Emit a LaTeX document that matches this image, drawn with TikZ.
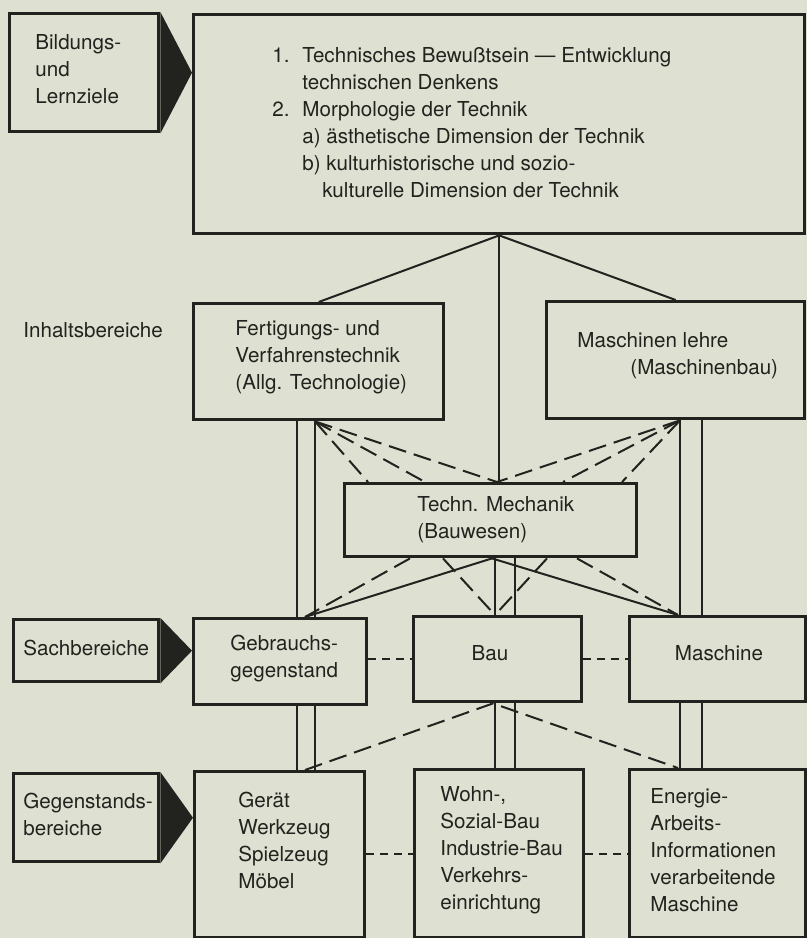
\documentclass[tikz,border=0pt]{standalone}
\usepackage{fontspec}
\setmainfont{TeX Gyre Heros}
\definecolor{paperGrey}{RGB}{222,225,210}
\definecolor{inkGrey}{RGB}{34,34,30}
\newcommand{\listnr}[1]{\makebox[15pt][l]{#1}}

\begin{document}
\begin{tikzpicture}[x=0.5pt, y=-0.5pt,
    every node/.style={font=\fontsize{10.3}{13.5}\selectfont, text=inkGrey},
    box/.style={draw=inkGrey, line width=1.7pt, anchor=north west, inner sep=0pt},
    txt/.style={inner sep=0pt, align=left, anchor=west},
    link/.style={draw=inkGrey, line width=1pt},
    dlink/.style={link, dash pattern=on 9pt off 4pt},
    hlink/.style={link, dash pattern=on 4pt off 3pt}]
      % Paper
      \useasboundingbox (0,0) rectangle (807,938);
      \fill[paperGrey] (0,0) rectangle (807,938);

      % Goals
      \node[box, minimum width=74.5pt, minimum height=59pt] (ziele) at (8,12) {};
      \node[box, minimum width=305.5pt, minimum height=109.5pt] (ziel) at (192,13) {};
      \fill[inkGrey] (ziele.north east) -- (ziele.east -| ziel.west) -- (ziele.south east) -- cycle;
      \node[txt] (zieleT) at (35,69) {Bildungs-\\und\\Lernziele};
      \node[txt] (zielT) at (272,122.5) {\listnr{1.}Technisches Bewußtsein — Entwicklung\\
        \hspace*{15pt}technischen Denkens\\
        \listnr{2.}Morphologie der Technik\\
        \hspace*{15pt}a) ästhetische Dimension der Technik\\
        \hspace*{15pt}b) kulturhistorische und sozio-\\
        \hspace*{25pt}kulturelle Dimension der Technik};

      % Inhaltsbereiche
      \node[txt] (inhalt) at (23,330) {Inhaltsbereiche};
      \node[box, minimum width=125pt, minimum height=58pt] (fert) at (192,302) {};
      \node[txt] (fertT) at (235,357) {Fertigungs- und\\Verfahrenstechnik\\(Allg. Technologie)};
      \node[box, minimum width=129pt, minimum height=58.5pt] (masch) at (545,300) {};
      \node[txt] (maschT) at (577,356) {Maschinen lehre\\\hspace*{26.5pt}(Maschinenbau)};
      \node[box, minimum width=146pt, minimum height=36.5pt] (mech) at (343,482) {};
      \node[txt] (mechT) at (417,520) {Techn. Mechanik\\(Bauwesen)};

      % Sachbereiche
      \node[box, minimum width=72.5pt, minimum height=31pt] (sach) at (12,618) {};
      \node[txt] (sachT) at (23,648) {Sachbereiche};
      \node[box, minimum width=86.5pt, minimum height=43pt] (gebr) at (192,617) {};
      \node[txt] (gebrT) at (230,658.5) {Gebrauchs-\\gegenstand};
      \node[box, minimum width=84pt, minimum height=42.5pt] (bau) at (412,615) {};
      \node (bauT) at (490,653) {Bau};
      \node[box, minimum width=88pt, minimum height=42.5pt] (maschine) at (628,615) {};
      \node (maschineT) at (719,653) {Maschine};
      \fill[inkGrey] (sach.north east) -- (sach.east -| gebr.west) -- (sach.south east) -- cycle;

      % Gegenstandsbereiche
      \node[box, minimum width=72.5pt, minimum height=44pt] (gegen) at (12,772) {};
      \node[txt] (gegenT) at (23,814) {Gegenstands-\\bereiche};
      \node[box, minimum width=85pt, minimum height=83pt] (geraet) at (193,770) {};
      \node[txt] (geraetT) at (238,840) {Gerät\\Werkzeug\\Spielzeug\\Möbel};
      \node[box, minimum width=84.5pt, minimum height=84pt] (wohn) at (413,768) {};
      \node[txt] (wohnT) at (440,850) {Wohn-,\\Sozial-Bau\\Industrie-Bau\\Verkehrs-\\einrichtung};
      \node[box, minimum width=88pt, minimum height=84pt] (energie) at (628,768) {};
      \node[txt] (energieT) at (650,850) {Energie-\\Arbeits-\\Informationen\\verarbeitende\\Maschine};
      \fill[inkGrey] (gegen.north east) -- (gegen.east -| geraet.west) -- (gegen.south east) -- cycle;

      % Goals to Inhaltsbereiche
      \draw[link] (fert.north) -- (ziel.south) -- (masch.north);
      \draw[link] (ziel.south) -- (mech.north -| ziel.south);

      % Double lines down the columns
      \foreach \x in {297,315} {
        \draw[link] (fert.south -| \x,0) -- (gebr.north -| \x,0);
        \draw[link] (gebr.south -| \x,0) -- (geraet.north -| \x,0);
      }
      \foreach \x in {495,515} {
        \draw[link] (mech.south -| \x,0) -- (bau.north -| \x,0);
        \draw[link] (bau.south -| \x,0) -- (wohn.north -| \x,0);
      }
      \foreach \x in {680,702} {
        \draw[link] (masch.south -| \x,0) -- (maschine.north -| \x,0);
        \draw[link] (maschine.south -| \x,0) -- (energie.north -| \x,0);
      }

      % Fans above Techn. Mechanik
      \foreach \x in {368,425,497}
        \draw[dlink] (fert.south -| 315,0) -- (mech.north -| \x,0);
      \foreach \x in {622,563,497}
        \draw[dlink] (masch.south -| 680,0) -- (mech.north -| \x,0);

      % Fans below Techn. Mechanik
      \draw[link] (gebr.north -| 305,0) -- (mech.south -| 492,0) -- (maschine.north -| 678,0);
      \draw[dlink] (mech.south -| 410,0) -- (gebr.north -| 305,0);
      \draw[dlink] (mech.south -| 577,0) -- (maschine.north -| 678,0);
      \draw[dlink] (mech.south -| 443,0) -- (bau.north -| 495,0);
      \draw[dlink] (mech.south -| 547,0) -- (bau.north -| 495,0);

      % Below Bau
      \draw[dlink] (geraet.north -| 305,0) -- (bau.south -| 493,0) -- (energie.north -| 678,0);

      % Side links
      \draw[hlink] (bau.west -| gebr.east) -- (bau.west);
      \draw[hlink] (bau.east) -- (bau.east -| maschine.west);
      \draw[hlink] (wohn.west -| geraet.east) -- (wohn.west);
      \draw[hlink] (wohn.east) -- (wohn.east -| energie.west);
\end{tikzpicture}
\end{document}
